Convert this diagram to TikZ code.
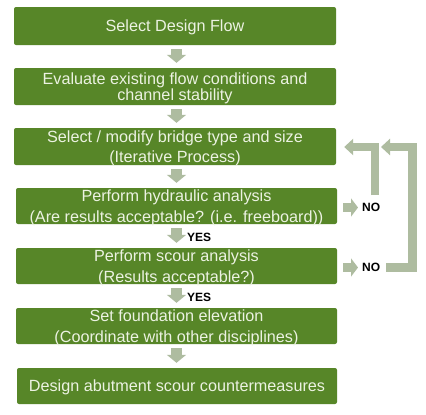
\documentclass[tikz,border=0pt]{standalone}
\usepackage{fontspec}
\setmainfont{Liberation Sans}
\usetikzlibrary{arrows.meta}
\definecolor{boxgreen}{RGB}{87,134,40}
\definecolor{boxtext}{RGB}{236,242,226}
\definecolor{arrgray}{RGB}{174,188,160}
\tikzset{
  stepbox/.style={fill=boxgreen, rounded corners=2pt, text=boxtext,
    minimum width=322pt, minimum height=37pt, inner sep=0pt, align=center,
    text depth=0pt,
    font=\fontsize{16.2}{20.5}\selectfont},
  downarr/.style={draw=arrgray, line width=11pt, shorten <=4pt, shorten >=5pt,
    -{Triangle[width=19pt,length=8pt,fill=arrgray,color=arrgray]}},
  noarr/.style={draw=arrgray, line width=9pt,
    -{Triangle[width=18pt,length=7pt,fill=arrgray,color=arrgray]}},
  looparr/.style={draw=arrgray, line width=8.5pt, line join=miter,
    -{Triangle[width=16pt,length=9pt,fill=arrgray,color=arrgray]}},
  lab/.style={font=\fontsize{12}{12}\selectfont\bfseries, text=black, inner sep=0pt, anchor=west}
}
\begin{document}
\begin{tikzpicture}[x=1pt,y=-1pt]
\useasboundingbox[fill=white] (0,0) rectangle (426,415);
\node[stepbox, minimum height=38pt] (b1) at (175,26) {Select Design Flow};
\node[stepbox, font=\fontsize{16.2}{16}\selectfont] (b2) at (175,86.5) {Evaluate existing flow conditions and\\channel stability};
\node[stepbox] (b3) at (175,146.5) {Select / modify bridge type and size\\(Iterative Process)};
\node[stepbox, minimum width=321pt, minimum height=36pt] (b4) at (176.5,206) {Perform hydraulic analysis\\(Are results acceptable? (i.e. freeboard))};
\node[stepbox, minimum width=321pt, minimum height=36pt] (b5) at (176.5,266) {Perform scour analysis\\(Results acceptable?)};
\node[stepbox, minimum width=321pt, minimum height=36pt] (b6) at (176.5,326) {Set foundation elevation\\(Coordinate with other disciplines)};
\node[stepbox, minimum width=320pt, minimum height=36pt] (b7) at (177,386) {Design abutment scour countermeasures};

\coordinate (ax) at (176.5,0);
\draw[downarr] (b1.south -| ax) -- (b2.north -| ax);
\draw[downarr] (b2.south -| ax) -- (b3.north -| ax);
\draw[downarr] (b3.south -| ax) -- (b4.north -| ax);
\draw[downarr] (b4.south -| ax) -- (b5.north -| ax);
\draw[downarr] (b5.south -| ax) -- (b6.north -| ax);
\draw[downarr] (b6.south -| ax) -- (b7.north -| ax);

\node[lab] (y1) at (187,237) {YES};
\node[lab] (y2) at (187,297) {YES};

\node[lab] (n1) at (362,207.5) {NO};
\node[lab] (n2) at (362,267.5) {NO};
\draw[noarr, shorten <=6pt, shorten >=4pt] (n1.west -| b4.east) -- (n1.west);
\draw[noarr, shorten <=6pt, shorten >=4pt] (n2.west -| b5.east) -- (n2.west);

\coordinate (ls) at (375,195);
\coordinate (lc) at (375,147);
\coordinate (rx) at (412.5,0);
\draw[looparr, shorten >=8pt] (ls) -- (lc) -- (b3.east |- lc);
\draw[looparr, shorten <=6pt, shorten >=6pt] (n2.east) -- (n2.east -| rx) |- (lc);
\end{tikzpicture}
\end{document}
